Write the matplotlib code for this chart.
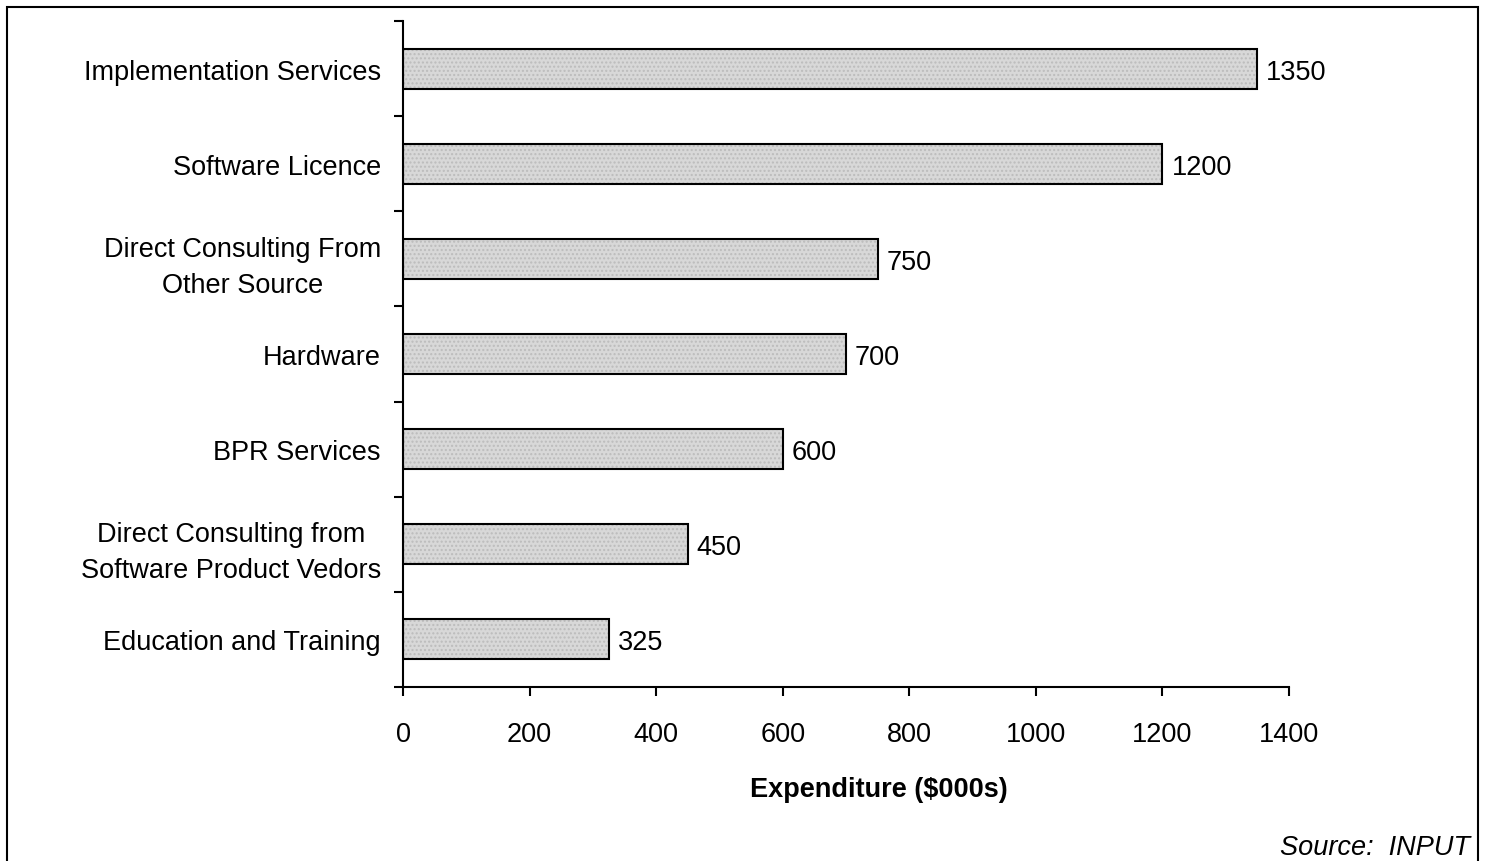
import matplotlib.pyplot as plt
import matplotlib.patches as patches
import numpy as np

plt.rcParams['font.family'] = ['Liberation Sans', 'DejaVu Sans']

# Spending categories, top to bottom
categories = [
    "Implementation Services",
    "Software Licence",
    "Direct Consulting From\nOther Source",
    "Hardware",
    "BPR Services",
    "Direct Consulting from\nSoftware Product Vedors",
    "Education and Training",
]
spend = [1350, 1200, 750, 700, 600, 450, 325]
x_ticks = [0, 200, 400, 600, 800, 1000, 1200, 1400]

fs = 19.5

fig = plt.figure(figsize=(14.86, 8.62), dpi=100)
ax = fig.add_axes([0.2712, 0.2019, 0.5962, 0.7726])

y = np.arange(len(categories))
# stippled fill underneath, black outline on top
ax.barh(y, spend, height=0.42, color='#d8d8d8', edgecolor='#bcbcbc',
        hatch='....', linewidth=0, zorder=2)
ax.barh(y, spend, height=0.42, fill=False, edgecolor='black',
        linewidth=1.5, zorder=3)

for yi, v in zip(y, spend):
    ax.annotate(str(v), (v, yi), xytext=(6.5, 0), textcoords='offset points',
                va='center_baseline', ha='left', fontsize=fs)

ax.set_xlim(0, 1400)
ax.set_ylim(len(categories) - 0.5, -0.5)
ax.set_xticks(x_ticks)
ax.set_yticks(y)
ax.set_yticklabels(categories, fontsize=fs, multialignment='center',
                   linespacing=1.5)
for lbl in ax.get_yticklabels():
    lbl.set_verticalalignment('center_baseline')
ax.set_yticks(np.arange(-0.5, len(categories)), minor=True)

ax.tick_params(axis='y', which='major', length=0, pad=16)
ax.tick_params(axis='y', which='minor', length=6.5, width=1.5, direction='out')
ax.tick_params(axis='x', which='major', length=6.5, width=1.5, direction='out',
               pad=18, labelsize=fs)

for side in ['top', 'right']:
    ax.spines[side].set_visible(False)
for side in ['left', 'bottom']:
    ax.spines[side].set_linewidth(1.5)

ax.set_xlabel("Expenditure ($000s)", fontsize=fs, fontweight='bold', labelpad=22)
ax.xaxis.set_label_coords(0.537, -0.133)

fig.text(0.989, 0.008, "Source:  INPUT", ha='right', va='baseline',
         fontsize=fs, style='italic')

# border around the whole page
frame = patches.Rectangle((0.0047, -0.05), 0.9899, 1.0407, transform=fig.transFigure,
                          fill=False, edgecolor='black', linewidth=1.5, clip_on=False)
fig.patches.append(frame)

fig.savefig("out.png", dpi=100)
